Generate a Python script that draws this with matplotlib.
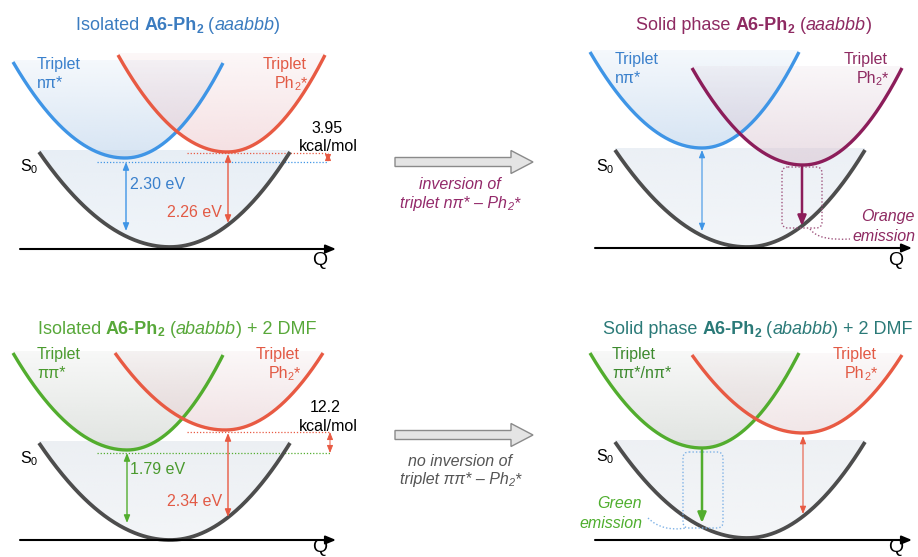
import numpy as np
import matplotlib
matplotlib.use("Agg")
import matplotlib.pyplot as plt
from matplotlib.patches import FancyArrow, FancyBboxPatch, PathPatch, Polygon
from matplotlib.path import Path
from matplotlib.colors import to_rgb

FONT = ['Liberation Sans', 'DejaVu Sans']

# schematic potential curves: (left end, minimum, right end) in drawing units
tl_triplet_a = [(13, 62), (125, 158), (223, 63)]
tl_triplet_b = [(118, 55), (227, 152), (325, 55)]
tl_s0 = [(39, 152), (170, 247), (290, 152)]

tr_triplet_a = [(590, 52), (702, 148), (799, 52)]
tr_triplet_b = [(692, 68), (803, 165), (902, 68)]
tr_s0 = [(615, 150), (747, 247), (865, 150)]

bl_triplet_a = [(13, 353), (127, 450), (223, 355)]
bl_triplet_b = [(115, 353), (225, 430), (323, 353)]
bl_s0 = [(39, 443), (170, 540), (290, 443)]

br_triplet_a = [(590, 353), (702, 448), (799, 353)]
br_triplet_b = [(692, 355), (803, 433), (902, 355)]
br_s0 = [(615, 442), (747, 538), (865, 442)]

# labels
gap_labels = ["2.30 eV", "2.26 eV", "1.79 eV", "2.34 eV"]
split_labels = [("3.95", "kcal/mol"), ("12.2", "kcal/mol")]

BLUE = '#3f95e6'
RED = '#e85a43'
PURPLE = '#8c1d5a'
GREEN = '#52ad2e'
GREY = '#4d4d4d'

fig = plt.figure(figsize=(9.18, 5.57), dpi=100)
ax = fig.add_axes([0, 0, 1, 1])
ax.axis('off')
renderer = fig.canvas.get_renderer()


def curve(pts, n=300):
    (xl, yl), (xv, yv), (xr, yr) = pts
    aL = (yv - yl) / (xv - xl) ** 2
    aR = (yv - yr) / (xr - xv) ** 2
    x = np.linspace(xl, xr, n)
    a = np.where(x < xv, aL, aR)
    return x, yv - a * (x - xv) ** 2


def draw_curve(pts, color, fill, lw=2.4, a_top=0.15, a_bot=0.6):
    x, y = curve(pts)
    top = min(pts[0][1], pts[2][1]) - 2
    verts = list(zip(x, y)) + [(x[-1], top), (x[0], top)]
    clip = Polygon(verts, closed=True, fc='none', ec='none')
    ax.add_patch(clip)
    rgba = np.zeros((256, 1, 4))
    rgba[..., :3] = to_rgb(fill)
    rgba[..., 3] = np.linspace(a_top, a_bot, 256)[:, None]
    im = ax.imshow(rgba, extent=(x[0], x[-1], y.max(), top), aspect='auto',
                   interpolation='bilinear', zorder=1)
    im.set_clip_path(clip)
    ax.plot(x, y, color=color, lw=lw, zorder=3, solid_capstyle='butt')


def text_width(txt, **kw):
    t1 = ax.text(0, 0, '|' + txt + '|', **kw)
    t2 = ax.text(0, 0, '||', **kw)
    w = t1.get_window_extent(renderer).width - t2.get_window_extent(renderer).width
    t1.remove()
    t2.remove()
    return w


def rich(x, y, pieces, size=11.5, color='k', ha='left'):
    # pieces: list of (text, style) ; style chars: b=bold, i=italic, s=subscript
    items = []
    total = 0
    for txt, st in pieces:
        fs = size * 0.68 if 's' in st else size
        kw = dict(fontsize=fs, family=FONT, color=color,
                  fontweight='bold' if 'b' in st else 'normal',
                  fontstyle='italic' if 'i' in st else 'normal')
        w = text_width(txt, **kw)
        items.append((txt, kw, w, 's' in st))
        total += w
    if ha == 'center':
        x0 = x - total / 2
    elif ha == 'right':
        x0 = x - total
    else:
        x0 = x
    base = y + 0.36 * size * 100 / 72
    for txt, kw, w, sub in items:
        yy = base + (0.16 * size * 100 / 72 if sub else 0)
        ax.text(x0, yy, txt, va='baseline', ha='left', zorder=6, **kw)
        x0 += w


def dbl_arrow(x, y0, y1, color, lw=1.0):
    ax.annotate('', xy=(x, y1), xytext=(x, y0),
                arrowprops=dict(arrowstyle='<|-|>,head_length=0.45,head_width=0.18',
                                color=color, lw=lw, shrinkA=0, shrinkB=0), zorder=5)


def down_arrow(x, y0, y1, color):
    ax.annotate('', xy=(x, y1), xytext=(x, y0),
                arrowprops=dict(arrowstyle='-|>,head_length=0.6,head_width=0.25',
                                color=color, lw=1.8, shrinkA=0, shrinkB=0), zorder=5)


def q_axis(x0, x1, y, q_y, va):
    ax.annotate('', xy=(x1, y), xytext=(x0, y),
                arrowprops=dict(arrowstyle='-|>,head_length=0.6,head_width=0.25',
                                color='black', lw=1.5, shrinkA=0, shrinkB=0), zorder=4)
    ax.text(x1 - 16, q_y, 'Q', fontsize=14, family=FONT, ha='center', va=va)


def dotted(x0, x1, y, color):
    ax.plot([x0, x1], [y, y], color=color, lw=0.9, ls=(0, (1, 1.5)), zorder=2)


def box(x0, y0, x1, y1, color):
    p = FancyBboxPatch((x0, y0), x1 - x0, y1 - y0,
                       boxstyle='round,pad=0,rounding_size=6',
                       fill=False, ec=color, lw=1.0, ls=(0, (1, 1.5)), zorder=4)
    ax.add_patch(p)


def link(p0, c, p1, color):
    path = Path([p0, c, p1], [Path.MOVETO, Path.CURVE3, Path.CURVE3])
    ax.add_patch(PathPatch(path, fill=False, ec=color, lw=1.0, ls=(0, (1, 1.5)), zorder=4))


# ---------------- top left ----------------
draw_curve(tl_s0, GREY, '#d5e1ee', lw=2.7, a_top=0.55, a_bot=0.35)
draw_curve(tl_triplet_a, BLUE, '#bcd3ec')
draw_curve(tl_triplet_b, RED, '#efccd0')
q_axis(20, 336, 249, 252, 'top')
rich(178, 24, [("Isolated ", ''), ("A6-Ph", 'b'), ("2", 'bs'), (" (", ''), ("aaabbb", 'i'), (")", '')],
     size=13, color='#3b7cc0', ha='center')
rich(37, 63, [("Triplet", '')], color='#3a80cc')
rich(37, 82, [("nπ*", '')], color='#3a80cc')
rich(307, 63, [("Triplet", '')], color='#e25a45', ha='right')
rich(307, 82, [("Ph", ''), ("2", 's'), ("*", '')], color='#e25a45', ha='right')
rich(327, 127, [(split_labels[0][0], '')], ha='center')
rich(328, 145, [(split_labels[0][1], '')], ha='center')
rich(20, 165, [("S", ''), ("0", 's')])
dotted(187, 328, 153, RED)
dotted(97, 328, 162, BLUE)
dbl_arrow(328, 153, 162, RED, lw=0.7)
dbl_arrow(126, 162, 231, BLUE)
dbl_arrow(228, 154, 223, RED)
rich(130, 183, [(gap_labels[0], '')], color='#3a80cc')
rich(222, 211, [(gap_labels[1], '')], color='#e25a45', ha='right')

# ---------------- top right ----------------
draw_curve(tr_s0, GREY, '#dce4ee', lw=2.7, a_top=0.55, a_bot=0.35)
draw_curve(tr_triplet_a, BLUE, '#bcd3ec')
draw_curve(tr_triplet_b, PURPLE, '#dcc8d4')
q_axis(595, 912, 248, 252, 'top')
rich(754, 24, [("Solid phase ", ''), ("A6-Ph", 'b'), ("2", 'bs'), (" (", ''), ("aaabbb", 'i'), (")", '')],
     size=13, color='#8e2a62', ha='center')
rich(615, 58, [("Triplet", '')], color='#3a80cc')
rich(615, 77, [("nπ*", '')], color='#3a80cc')
rich(888, 58, [("Triplet", '')], color='#8e2a62', ha='right')
rich(888, 77, [("Ph", ''), ("2", 's'), ("*", '')], color='#8e2a62', ha='right')
rich(596, 165, [("S", ''), ("0", 's')])
dbl_arrow(702, 150, 231, BLUE, lw=0.8)
box(782, 167, 822, 228, '#a0567f')
down_arrow(802, 166, 226, PURPLE)
link((810, 229), (818, 241), (850, 239), '#a0567f')
rich(915, 215, [("Orange", 'i')], color='#8e2a62', ha='right')
rich(915, 235, [("emission", 'i')], color='#8e2a62', ha='right')

# ---------------- middle arrows ----------------
for yc in (162, 435):
    ax.add_patch(FancyArrow(395, yc, 138, 0, width=9, head_width=23, head_length=22,
                            length_includes_head=True, fc='#e4e4e4', ec='#8a8a8a', lw=1.0, zorder=3))
rich(460, 183, [("inversion of", 'i')], color='#93296a', ha='center')
rich(460, 202, [("triplet nπ* – Ph", 'i'), ("2", 'is'), ("*", 'i')], color='#93296a', ha='center')
rich(460, 460, [("no inversion of", 'i')], color='#555555', ha='center')
rich(460, 478, [("triplet ππ* – Ph", 'i'), ("2", 'is'), ("*", 'i')], color='#555555', ha='center')

# ---------------- bottom left ----------------
draw_curve(bl_s0, GREY, '#dde3ea', lw=2.7, a_top=0.55, a_bot=0.35)
draw_curve(bl_triplet_a, GREEN, '#cdd2cd')
draw_curve(bl_triplet_b, RED, '#e8d0d3')
q_axis(20, 336, 540, 556, 'bottom')
rich(177, 327, [("Isolated ", ''), ("A6-Ph", 'b'), ("2", 'bs'), (" (", ''), ("ababbb", 'i'), (") + 2 DMF", '')],
     size=13, color='#58a83a', ha='center')
rich(37, 353, [("Triplet", '')], color='#4a9a2e')
rich(37, 372, [("ππ*", '')], color='#4a9a2e')
rich(300, 353, [("Triplet", '')], color='#e25a45', ha='right')
rich(300, 372, [("Ph", ''), ("2", 's'), ("*", '')], color='#e25a45', ha='right')
rich(325, 406, [(split_labels[1][0], '')], ha='center')
rich(328, 425, [(split_labels[1][1], '')], ha='center')
rich(20, 457, [("S", ''), ("0", 's')])
dotted(187, 330, 432, RED)
dotted(97, 330, 453, GREEN)
dbl_arrow(330, 432, 453, RED, lw=0.7)
dbl_arrow(127, 453, 523, GREEN)
dbl_arrow(228, 433, 517, RED)
rich(130, 468, [(gap_labels[2], '')], color='#4a9a2e')
rich(222, 500, [(gap_labels[3], '')], color='#e25a45', ha='right')

# ---------------- bottom right ----------------
draw_curve(br_s0, GREY, '#e0e5eb', lw=2.7, a_top=0.55, a_bot=0.35)
draw_curve(br_triplet_a, GREEN, '#cdd2cd')
draw_curve(br_triplet_b, RED, '#e8d6d8')
q_axis(595, 912, 540, 556, 'bottom')
rich(758, 328, [("Solid phase ", ''), ("A6-Ph", 'b'), ("2", 'bs'), (" (", ''), ("ababbb", 'i'), (") + 2 DMF", '')],
     size=13, color='#2b7a78', ha='center')
rich(612, 353, [("Triplet", '')], color='#3d8a2e')
rich(612, 372, [("ππ*/nπ*", '')], color='#3d8a2e')
rich(877, 353, [("Triplet", '')], color='#e25a45', ha='right')
rich(877, 372, [("Ph", ''), ("2", 's'), ("*", '')], color='#e25a45', ha='right')
rich(596, 455, [("S", ''), ("0", 's')])
box(683, 452, 723, 528, '#7fb2e6')
down_arrow(702, 450, 523, GREEN)
dbl_arrow(803, 436, 514, RED, lw=0.8)
link((648, 518), (662, 532), (686, 528), '#7fb2e6')
rich(642, 502, [("Green", 'i')], color='#4fae2e', ha='right')
rich(642, 522, [("emission", 'i')], color='#4fae2e', ha='right')

ax.set_xlim(0, 918)
ax.set_ylim(557, 0)
fig.savefig('out.png', dpi=100)
